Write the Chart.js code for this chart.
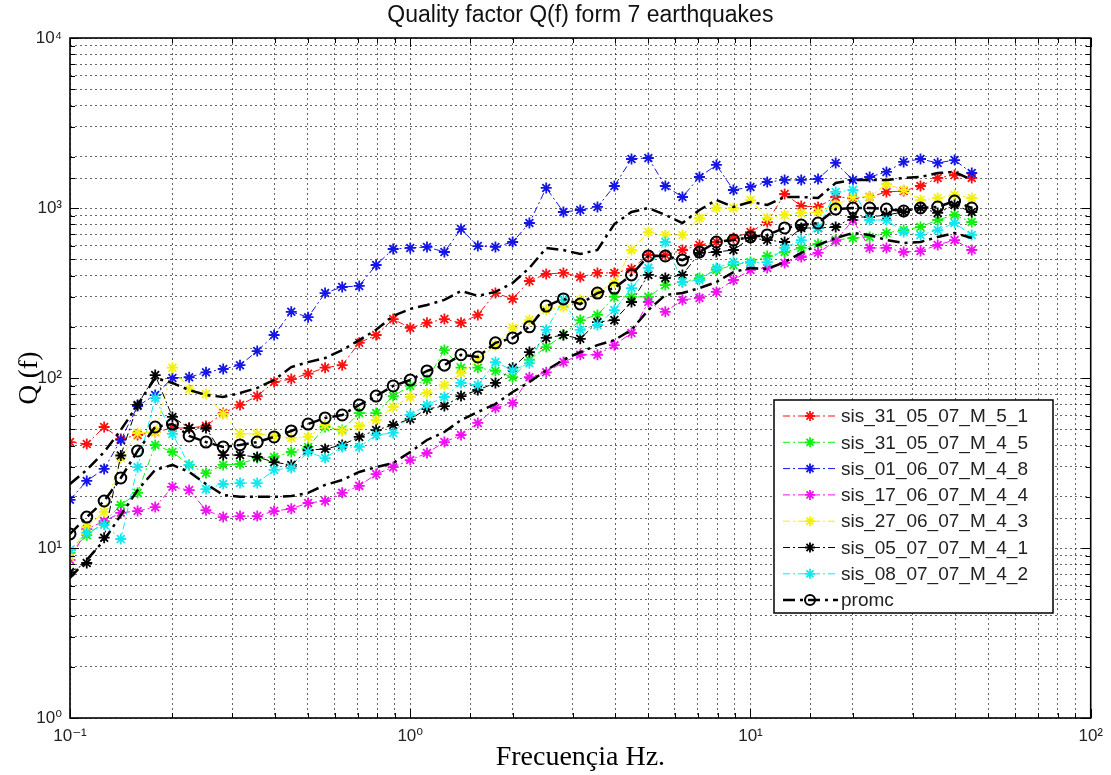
<!DOCTYPE html>
<html>
<head>
<meta charset="utf-8">
<title>Quality factor Q(f)</title>
<script src="https://cdn.jsdelivr.net/npm/chart.js@4.4.0/dist/chart.umd.min.js"></script>
<style>
  body { margin: 0; background: #fff; }
  #wrap { width: 1111px; height: 775px; }
</style>
</head>
<body>
<div id="wrap"><canvas id="qChart" width="1111" height="775"></canvas></div>
<script>
"use strict";

// frequency of every sample (Hz), 20 per decade
const freqs = [0.1, 0.112, 0.126, 0.141, 0.158, 0.178, 0.2, 0.224, 0.251, 0.282,
    0.316, 0.355, 0.398, 0.447, 0.501, 0.562, 0.631, 0.708, 0.794, 0.891,
    1.0, 1.12, 1.26, 1.41, 1.58, 1.78, 2.0, 2.24, 2.51, 2.82,
    3.16, 3.55, 3.98, 4.47, 5.01, 5.62, 6.31, 7.08, 7.94, 8.91,
    10.0, 11.2, 12.6, 14.1, 15.8, 17.8, 20.0, 22.4, 25.1, 28.2,
    31.6, 35.5, 39.8, 44.7];

// Q(f), one list per earthquake
const sis310551 = [42.0, 40.9, 51.5, 43.8, 46.2, 48.1, 50.8, 50.8, 52.2, 62.2,
    69.4, 78.3, 94.7, 98.6, 106, 115, 119, 161, 179, 222,
    197, 211, 222, 211, 235, 316, 292, 372, 409, 415,
    393, 415, 415, 438, 529, 529, 566, 606, 631, 666,
    722, 827, 1209, 1028, 1014, 1161, 1145, 1161, 1243, 1259,
    1347, 1501, 1564, 1501];
const sis310545 = [9.35, 11.9, 14.2, 17.9, 21.1, 40.4, 36.7, 30.8, 27.6, 30.8,
    31.2, 33.8, 34.3, 36.7, 39.3, 51.5, 49.4, 62.2, 62.2, 78.3,
    89.8, 97.3, 146, 115, 115, 110, 101, 128, 152, 179,
    219, 235, 300, 300, 300, 352, 367, 387, 432, 462,
    481, 522, 551, 582, 614, 648, 666, 675, 713, 742,
    773, 850, 910, 827];
const sis010648 = [19.2, 24.8, 29.2, 43.2, 68.4, 79.4, 100, 101, 108, 113,
    119, 144, 179, 245, 228, 316, 343, 348, 462, 574,
    582, 590, 551, 752, 597, 590, 631, 816, 1312, 947,
    973, 1014, 1347, 1942, 1969, 1347, 1161, 1522, 1791, 1276,
    1330, 1422, 1462, 1462, 1482, 1842, 1462, 1522, 1629, 1866,
    1942, 1842, 1915, 1606];
const sis170644 = [8.5, 12.9, 14.4, 16.1, 16.5, 17.4, 22.9, 21.9, 16.7, 15.2,
    15.4, 15.4, 16.5, 17.0, 18.4, 18.9, 21.1, 23.2, 27.2, 29.9,
    32.9, 36.2, 42.0, 46.2, 54.4, 66.6, 71.3, 101, 108, 124,
    137, 137, 156, 184, 280, 245, 288, 296, 321, 377,
    432, 444, 475, 515, 545, 640, 850, 582, 582, 551,
    558, 606, 648, 566];
const sis270643 = [8.85, 13.3, 16.3, 33.8, 47.5, 48.1, 115, 86.1, 80.5, 61.4,
    46.9, 46.9, 45.6, 44.4, 45.0, 52.9, 48.8, 52.2, 56.6, 67.5,
    77.3, 81.6, 90.9, 107, 128, 156, 197, 219, 251, 262,
    288, 321, 362, 566, 722, 694, 694, 873, 1000, 1000,
    1114, 873, 910, 935, 947, 1042, 1161, 1161, 1384, 1276,
    1114, 1145, 1192, 1145];
const sis050741 = [7.22, 8.16, 11.5, 35.0, 69.4, 104, 59.0, 50.8, 50.8, 35.2,
    35.2, 34.3, 32.0, 30.8, 37.7, 38.2, 40.4, 45.0, 49.4, 52.9,
    57.4, 65.7, 68.4, 78.3, 85.0, 93.5, 115, 142, 172, 179,
    170, 213, 219, 280, 404, 387, 404, 544, 551, 566,
    666, 648, 631, 763, 763, 773, 885, 885, 910, 947,
    1000, 935, 1042, 947];
const sis080742 = [9.73, 12.3, 13.7, 11.3, 29.9, 76.3, 46.9, 30.8, 22.2, 23.8,
    24.1, 24.1, 28.8, 29.6, 36.7, 33.8, 39.3, 39.3, 46.2, 47.5,
    60.6, 69.4, 77.3, 93.5, 90.9, 124, 111, 122, 192, 288,
    192, 205, 251, 338, 444, 631, 367, 377, 444, 481,
    475, 481, 582, 648, 763, 1243, 1276, 850, 850, 722,
    694, 742, 816, 694];
// average of the 7 events
const promc = [12.1, 15.2, 18.9, 25.8, 37.2, 51.5, 53.6, 45.6, 42.0, 39.3,
    40.4, 42.0, 45.0, 48.8, 53.6, 58.2, 60.6, 69.4, 78.3, 89.8,
    97.3, 110, 119, 137, 133, 161, 172, 200, 265, 292,
    272, 316, 338, 404, 522, 522, 494, 551, 631, 648,
    675, 694, 763, 794, 816, 986, 1000, 1000, 986, 960,
    1000, 1014, 1099, 1000];
// the two dash-dot curves around the average (no legend entry)
const promcUp = [23.8, 28.8, 36.7, 49.4, 69.4, 100, 93.5, 85.0, 79.4, 77.3,
    81.6, 87.4, 97.3, 116, 124, 131, 146, 167, 192, 232,
    255, 269, 288, 325, 304, 321, 362, 444, 582, 566,
    536, 566, 805, 947, 1000, 910, 816, 973, 1114, 1014,
    1084, 1042, 1161, 1161, 1145, 1403, 1462, 1462, 1462, 1501,
    1522, 1606, 1629, 1462];
const promcLow = [6.66, 8.5, 11.1, 15.6, 21.9, 28.8, 30.8, 28.0, 23.8, 20.5,
    20.0, 20.0, 20.0, 20.2, 21.1, 23.5, 25.1, 28.0, 29.9, 31.6,
    36.7, 43.2, 48.1, 56.6, 63.1, 70.3, 82.7, 94.7, 111, 128,
    142, 156, 167, 192, 251, 308, 316, 338, 367, 420,
    444, 438, 481, 544, 606, 666, 713, 694, 648, 622,
    631, 675, 713, 666];

const thinDash = [7, 3, 2, 3];
const thickDash = [12, 5, 3, 5];

function toPoints(values) {
    return values.map((v, i) => ({ x: freqs[i], y: v }));
}

function makeLine(label, values, color, marker, width, dash) {
    return {
        label: label,
        data: toPoints(values),
        borderColor: color,
        backgroundColor: 'rgba(0,0,0,0)',
        borderWidth: width,
        borderDash: dash,
        pointStyle: marker || false,
        pointRadius: marker ? 5.5 : 0,
        pointBorderColor: color,
        pointBackgroundColor: 'rgba(0,0,0,0)',
        pointBorderWidth: marker === 'circle' ? 2 : 1.8,
        tension: 0
    };
}

const datasets = [
    makeLine('sis_31_05_07_M_5_1', sis310551, '#ff1010', 'star', 1, thinDash),
    makeLine('sis_31_05_07_M_4_5', sis310545, '#10f010', 'star', 1, thinDash),
    makeLine('sis_01_06_07_M_4_8', sis010648, '#1515e6', 'star', 1, thinDash),
    makeLine('sis_17_06_07_M_4_4', sis170644, '#f010f0', 'star', 1, thinDash),
    makeLine('sis_27_06_07_M_4_3', sis270643, '#f2f010', 'star', 1, thinDash),
    makeLine('sis_05_07_07_M_4_1', sis050741, '#000000', 'star', 1, thinDash),
    makeLine('sis_08_07_07_M_4_2', sis080742, '#10e8ee', 'star', 1, thinDash),
    makeLine('promc', promc, '#000000', 'circle', 2.5, thickDash),
    makeLine('', promcUp, '#000000', null, 2.5, thickDash),
    makeLine('', promcLow, '#000000', null, 2.5, thickDash)
];
// matlab draws the last line on top
datasets.forEach((d, i) => { d.order = datasets.length - i; });

function supText(n) {
    const sup = { '-': '\u207B', '0': '\u2070', '1': '\u00B9', '2': '\u00B2', '3': '\u00B3', '4': '\u2074' };
    return String(n).split('').map(c => sup[c]).join('');
}

function decadeLabel(value) {
    const e = Math.log10(value);
    if (Math.abs(e - Math.round(e)) > 1e-6) {
        return '';
    }
    return '10' + supText(Math.round(e));
}

function drawMarker(ctx, style, x, y, r, color, lw) {
    ctx.strokeStyle = color;
    ctx.lineWidth = lw;
    ctx.setLineDash([]);
    ctx.beginPath();
    if (style === 'circle') {
        ctx.arc(x, y, r, 0, Math.PI * 2);
    } else {
        const d = r * 0.7071;
        ctx.moveTo(x - r, y); ctx.lineTo(x + r, y);
        ctx.moveTo(x, y - r); ctx.lineTo(x, y + r);
        ctx.moveTo(x - d, y - d); ctx.lineTo(x + d, y + d);
        ctx.moveTo(x - d, y + d); ctx.lineTo(x + d, y - d);
    }
    ctx.stroke();
}

// box round the axes + inward tick marks, like the matlab figure
const axesBox = {
    id: 'axesBox',
    afterDraw(chart) {
        const ctx = chart.ctx;
        const a = chart.chartArea;
        ctx.save();
        ctx.strokeStyle = '#000';
        ctx.lineWidth = 1;
        ctx.beginPath();
        chart.scales.x.ticks.forEach(t => {
            const px = Math.round(chart.scales.x.getPixelForValue(t.value)) + 0.5;
            const len = decadeLabel(t.value) ? 9 : 5;
            ctx.moveTo(px, a.bottom); ctx.lineTo(px, a.bottom - len);
            ctx.moveTo(px, a.top); ctx.lineTo(px, a.top + len);
        });
        chart.scales.y.ticks.forEach(t => {
            const py = Math.round(chart.scales.y.getPixelForValue(t.value)) + 0.5;
            const len = decadeLabel(t.value) ? 9 : 5;
            ctx.moveTo(a.left, py); ctx.lineTo(a.left + len, py);
            ctx.moveTo(a.right, py); ctx.lineTo(a.right - len, py);
        });
        ctx.stroke();
        ctx.lineWidth = 1.6;
        ctx.strokeRect(a.left, a.top, a.right - a.left, a.bottom - a.top);
        ctx.restore();
    }
};

// legend inside the plot, lower right
const legendBox = {
    id: 'legendBox',
    afterDraw(chart) {
        const ctx = chart.ctx;
        const x0 = 774, y0 = 400, w = 279, h = 213;
        ctx.save();
        ctx.fillStyle = '#fff';
        ctx.fillRect(x0, y0, w, h);
        ctx.strokeStyle = '#000';
        ctx.lineWidth = 1.5;
        ctx.strokeRect(x0, y0, w, h);
        const entries = chart.data.datasets.filter(d => d.label);
        entries.forEach((ds, i) => {
            const y = y0 + 16 + i * 26.3;
            ctx.strokeStyle = ds.borderColor;
            ctx.lineWidth = ds.borderWidth;
            ctx.setLineDash(ds.borderDash);
            ctx.beginPath();
            ctx.moveTo(x0 + 9, y);
            ctx.lineTo(x0 + 64, y);
            ctx.stroke();
            drawMarker(ctx, ds.pointStyle, x0 + 36, y, 5, ds.pointBorderColor, ds.pointBorderWidth);
            ctx.fillStyle = '#222';
            ctx.font = '19px "Liberation Sans", Arial, sans-serif';
            ctx.textBaseline = 'middle';
            ctx.fillText(ds.label, x0 + 67, y + 1);
        });
        ctx.restore();
    }
};

const tickFont = { family: '"Liberation Sans", "DejaVu Sans", sans-serif', size: 17 };

new Chart(document.getElementById('qChart'), {
    type: 'line',
    data: { datasets: datasets },
    options: {
        responsive: false,
        animation: false,
        devicePixelRatio: 1,
        layout: { padding: { left: 0, right: 14, top: 0, bottom: 0 } },
        plugins: {
            legend: { display: false },
            tooltip: { enabled: false },
            title: {
                display: true,
                text: 'Quality factor Q(f) form 7 earthquakes',
                fullSize: false,
                color: '#111',
                font: { family: '"Liberation Sans", Arial, sans-serif', size: 23, weight: 'normal' },
                padding: { top: 2, bottom: 8.4 }
            }
        },
        scales: {
            x: {
                type: 'logarithmic',
                min: 0.1,
                max: 100,
                grid: { color: 'rgba(0,0,0,0.6)', lineWidth: 1, drawTicks: false },
                border: { display: false, dash: [2, 3] },
                ticks: {
                    autoSkip: false,
                    maxRotation: 0,
                    padding: 8,
                    color: '#222',
                    font: tickFont,
                    callback: (v) => decadeLabel(v)
                },
                title: {
                    display: true,
                    text: 'Frecuençia Hz.',
                    color: '#000',
                    font: { family: '"Liberation Serif", "Times New Roman", serif', size: 28 },
                    padding: { top: 0, bottom: 1 }
                },
                afterFit(scale) { scale.height = 57; }
            },
            y: {
                type: 'logarithmic',
                min: 1,
                max: 10000,
                grid: { color: 'rgba(0,0,0,0.6)', lineWidth: 1, drawTicks: false },
                border: { display: false, dash: [2, 3] },
                ticks: {
                    autoSkip: false,
                    padding: 8,
                    color: '#222',
                    font: tickFont,
                    callback: (v) => decadeLabel(v)
                },
                title: {
                    display: true,
                    text: 'Q (f)',
                    color: '#000',
                    font: { family: '"Liberation Serif", "Times New Roman", serif', size: 27 },
                    padding: { top: 14, bottom: 0 }
                },
                afterFit(scale) { scale.width = 70; }
            }
        }
    },
    plugins: [axesBox, legendBox]
});
</script>
</body>
</html>
